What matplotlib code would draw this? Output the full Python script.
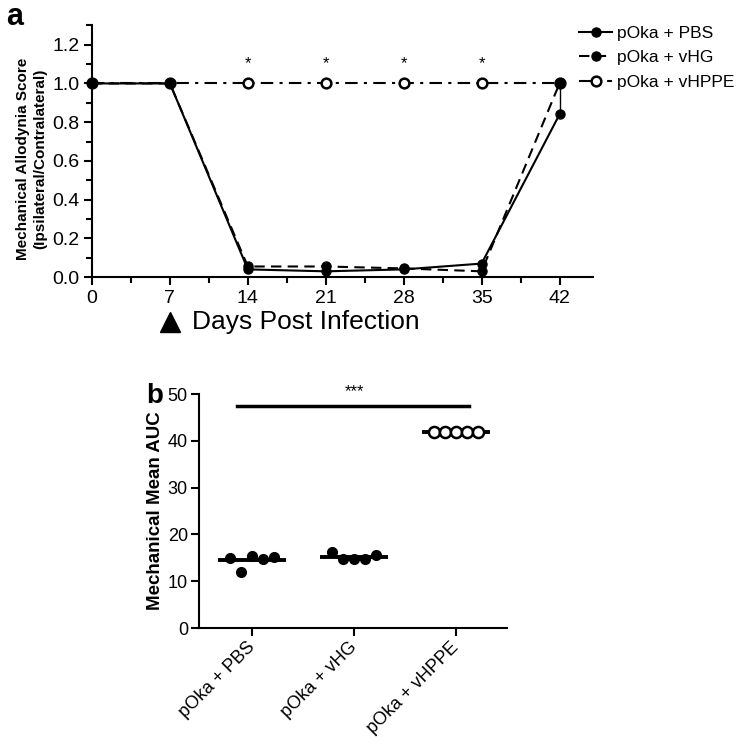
import matplotlib
matplotlib.use('Agg')
import matplotlib.pyplot as plt
import matplotlib.transforms as mtransforms
import numpy as np
from matplotlib.ticker import MultipleLocator

plt.rcParams['font.family'] = ['Liberation Sans', 'DejaVu Sans']

# panel a: allodynia score over time
days = [0, 7, 14, 21, 28, 35, 42]
pbs = [1.0, 1.0, 0.04, 0.03, 0.04, 0.07, 0.84]
pbs_err = [0, 0, 0, 0, 0, 0, 0.16]
vhg = [1.0, 1.0, 0.055, 0.055, 0.045, 0.03, 1.0]
vhppe = [1.0, 1.0, 1.0, 1.0, 1.0, 1.0, 1.0]
star_days = [14, 21, 28, 35]
groups = ['pOka + PBS', 'pOka + vHG', 'pOka + vHPPE']

# panel b: mean AUC per animal
auc_pbs = [15.0, 12.0, 15.5, 14.7, 15.1]
auc_vhg = [16.2, 14.8, 14.7, 14.8, 15.6]
auc_vhppe = [42.0, 42.0, 42.0, 42.0, 42.0]

fig = plt.figure(figsize=(7.51, 7.45), dpi=100)

# ---- panel a ----
ax1 = fig.add_axes([0.1225, 0.628, 0.667, 0.338])
l3, = ax1.plot(days, vhppe, marker='o', ls=(0, (6, 3, 1.5, 3)), color='k', lw=1.5,
               mfc='white', mec='k', mew=1.8, ms=7, zorder=2, clip_on=False)
l2, = ax1.plot(days, vhg, marker='o', ls=(0, (5, 3)), color='k', lw=1.5, ms=6.5,
               zorder=3, clip_on=False)
eb = ax1.errorbar(days, pbs, yerr=[np.zeros(len(pbs)), pbs_err], fmt='-o', color='k',
                  lw=1.5, ms=6.5, elinewidth=1, capsize=0, zorder=4)
eb[0].set_clip_on(False)
l1 = eb[0]

for d in star_days:
    ax1.text(d, 1.1, '*', ha='center', va='center', fontsize=12)

ax1.set_xlim(0, 45)
ax1.set_ylim(0, 1.3)
ax1.set_xticks(days)
ax1.xaxis.set_minor_locator(MultipleLocator(3.5))
ax1.set_yticks(np.arange(0, 1.21, 0.2))
ax1.yaxis.set_minor_locator(MultipleLocator(0.1))
ax1.set_yticklabels(['%.1f' % v for v in np.arange(0, 1.21, 0.2)])
ax1.tick_params(which='major', direction='out', length=6, width=1.5, labelsize=14, pad=3)
ax1.tick_params(which='minor', direction='out', length=4, width=1.5)
for s in ['top', 'right']:
    ax1.spines[s].set_visible(False)
for s in ['left', 'bottom']:
    ax1.spines[s].set_linewidth(1.5)

ax1.set_xlabel('Days Post Infection', fontsize=19)
ax1.xaxis.set_label_coords(0.427, -0.13)
ax1.set_ylabel('Mechanical Allodynia Score\n(Ipsilateral/Contralateral)',
               fontsize=11, fontweight='bold', linespacing=1.3)
ax1.yaxis.set_label_coords(-0.09, 0.47)

# inoculation arrow at day 7
trans = mtransforms.blended_transform_factory(ax1.transData, ax1.transAxes)
ax1.plot([7], [-0.18], marker='^', ms=15, color='k', transform=trans, clip_on=False)

fig.legend([l1, l2, l3], groups, loc='upper left', bbox_to_anchor=(0.762, 0.975),
           frameon=False, fontsize=12.5, handlelength=1.9, handletextpad=0.25,
           labelspacing=0.55, borderaxespad=0)

# ---- panel b ----
ax2 = fig.add_axes([0.265, 0.157, 0.41, 0.314])
aucs = [auc_pbs, auc_vhg, auc_vhppe]
for i, vals in enumerate(aucs):
    xs = i + np.linspace(-0.22, 0.22, len(vals))
    if i == 2:
        ax2.plot(xs, vals, 'o', ms=8, mfc='white', mec='k', mew=1.8, zorder=3)
    else:
        ax2.plot(xs, vals, 'o', ms=7, color='k', zorder=3)
    ax2.hlines(np.mean(vals), i - 0.33, i + 0.33, color='k', lw=2.8, zorder=2)

ax2.plot([-0.15, 2.13], [47.4, 47.4], color='k', lw=2.5, clip_on=False)
ax2.text(1, 50.6, '***', ha='center', va='center', fontsize=12)

ax2.set_xlim(-0.52, 2.5)
ax2.set_ylim(0, 50)
ax2.set_yticks(range(0, 51, 10))
ax2.set_xticks(range(len(groups)))
ax2.set_xticklabels(groups, rotation=45, ha='right', va='center', rotation_mode='anchor')
ax2.tick_params(direction='out', length=6, width=1.5, labelsize=13, pad=2)
ax2.tick_params(axis='x', labelsize=13, pad=6)
for s in ['top', 'right']:
    ax2.spines[s].set_visible(False)
for s in ['left', 'bottom']:
    ax2.spines[s].set_linewidth(1.5)
ax2.set_ylabel('Mechanical Mean AUC', fontsize=13.5, fontweight='bold')
ax2.yaxis.set_label_coords(-0.115, 0.5)

fig.text(0.008, 1 - 25 / 745, 'a', fontsize=22, fontweight='bold', va='baseline')
fig.text(146 / 751, 1 - 403 / 745, 'b', fontsize=20, fontweight='bold', va='baseline')

fig.savefig('out.png', dpi=100)
